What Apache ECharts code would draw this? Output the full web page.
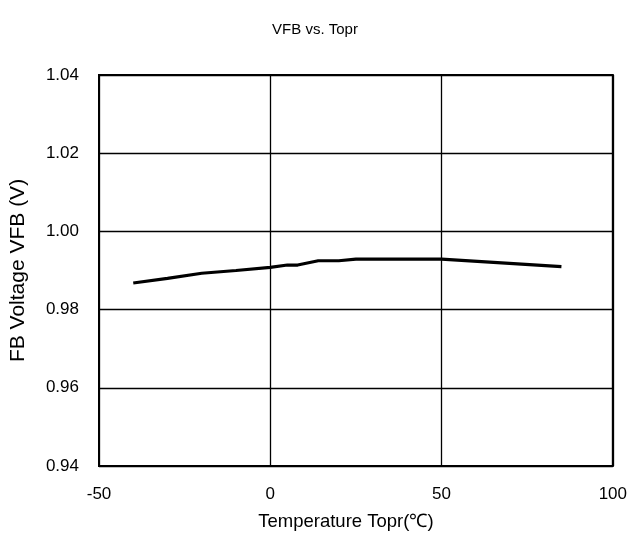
<!DOCTYPE html>
<html><head><meta charset="utf-8">
<script src="https://cdn.jsdelivr.net/npm/echarts@6/dist/echarts.min.js"></script>
<style>html,body{margin:0;padding:0;background:#fff}#c{width:630px;height:536px}</style>
</head><body><div id="c"></div>
<script>
const temps = [-40, -30, -20, -10, 0, 5, 8, 14, 20, 25, 50, 85];
const vfb = [0.9868, 0.9880, 0.9893, 0.9900, 0.9908, 0.9914, 0.9914, 0.9925, 0.9925, 0.9929, 0.9929, 0.9910];
const xTicks = [-50, 0, 50, 100];
const yTicks = [0.94, 0.96, 0.98, 1.00, 1.02, 1.04];
const font = 'Liberation Sans, Arial, sans-serif';
const chart = echarts.init(document.getElementById('c'), null, {renderer: 'canvas'});
chart.setOption({
  animation: false,
  backgroundColor: '#fff',
  title: {text: 'VFB vs. Topr', left: 'center', top: 17, textStyle: {fontFamily: font, fontSize: 15, fontWeight: 'normal', color: '#000'}},
  grid: {left: 98, right: 16, top: 75, bottom: 70, show: true, borderColor: '#000', borderWidth: 2},
  xAxis: {type: 'value', min: xTicks[0], max: xTicks[xTicks.length-1], interval: 50,
    name: 'Temperature Topr(℃)', nameLocation: 'middle', nameGap: 46,
    nameTextStyle: {fontFamily: font, fontSize: 18.5, color: '#000', padding: [0, 20, 0, 0]},
    axisLine: {show: false}, axisTick: {show: false},
    axisLabel: {fontFamily: font, fontSize: 17, color: '#000', margin: 20},
    splitLine: {show: true, lineStyle: {color: '#000', width: 1.3}}},
  yAxis: {type: 'value', min: yTicks[0], max: yTicks[yTicks.length-1], interval: 0.02,
    name: 'FB Voltage VFB (V)', nameLocation: 'middle', nameGap: 70, nameRotate: 90,
    nameTextStyle: {fontFamily: font, fontSize: 21, color: '#000'},
    axisLine: {show: false}, axisTick: {show: false},
    axisLabel: {fontFamily: font, fontSize: 17, color: '#000', margin: 20, formatter: v => v.toFixed(2)},
    splitLine: {show: true, lineStyle: {color: '#000', width: 1.3}}},
  series: [{type: 'line', data: temps.map((t, i) => [t, vfb[i]]), showSymbol: false,
    lineStyle: {color: '#000', width: 3.2}, itemStyle: {color: '#000'}}]
});
</script></body></html>
